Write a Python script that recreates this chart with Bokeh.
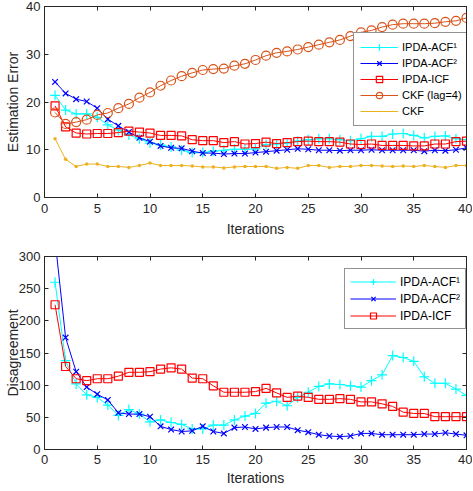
from bokeh.plotting import figure
from bokeh.layouts import column
from bokeh.models import LinearAxis, Legend, LegendItem, Range1d, FixedTicker
from bokeh.embed import file_html
from bokeh.resources import INLINE

iterations = list(range(1, 41))

# Top panel: estimation error
err_acf1 = [21.4, 18.3, 17.5, 17.5, 16.8, 15.2, 14.1, 13.1, 12.3, 11.4,
            11.0, 10.6, 9.9, 9.4, 9.4, 9.7, 9.9, 10.1, 10.1, 10.2,
            11.1, 11.2, 11.4, 11.8, 12.1, 12.3, 12.3, 12.1, 11.9, 12.3,
            12.8, 12.8, 13.3, 13.4, 13.0, 12.5, 12.8, 12.9, 12.3, 12.1]
err_acf2 = [24.2, 21.8, 20.6, 20.1, 18.7, 16.4, 15.0, 13.7, 12.5, 11.7,
            10.8, 10.4, 10.3, 9.7, 9.3, 9.3, 9.1, 9.2, 9.2, 9.4,
            9.6, 9.8, 10.0, 10.2, 10.1, 9.9, 9.9, 9.8, 9.9, 9.9,
            10.0, 9.9, 9.9, 9.9, 9.9, 9.7, 9.9, 9.8, 10.0, 10.4]
err_icf = [19.2, 14.8, 13.5, 13.3, 13.4, 13.4, 13.6, 13.9, 13.7, 13.5,
           13.0, 13.0, 12.9, 12.1, 11.9, 11.9, 11.5, 11.7, 11.2, 11.3,
           11.6, 11.3, 11.5, 11.7, 11.8, 11.7, 11.7, 11.6, 11.2, 11.1,
           11.2, 10.9, 10.9, 10.9, 10.8, 10.8, 11.2, 11.2, 11.7, 11.8]
err_ckf_lag = [17.8, 15.4, 15.8, 16.3, 17.3, 17.7, 18.7, 19.6, 20.9, 22.0,
               23.4, 24.5, 25.4, 26.1, 26.7, 26.9, 27.0, 27.6, 28.0, 28.8,
               29.7, 30.3, 30.6, 31.0, 31.5, 32.0, 32.5, 33.0, 33.8, 34.6,
               35.0, 35.7, 36.2, 36.4, 36.4, 36.4, 36.5, 36.8, 37.0, 37.6]
err_ckf = [12.3, 8.0, 6.5, 7.0, 7.0, 6.5, 6.5, 6.3, 6.7, 7.2,
           6.7, 6.7, 6.7, 6.6, 6.4, 6.4, 6.2, 6.4, 6.5, 6.5,
           6.5, 6.1, 6.3, 6.1, 6.7, 6.7, 6.3, 6.5, 6.5, 6.7,
           6.7, 6.6, 6.5, 6.6, 6.5, 6.7, 6.5, 6.3, 6.7, 6.7]

# Bottom panel: disagreement
dis_acf1 = [260, 138, 102, 85, 81, 69, 53, 62, 55, 43,
            46, 42, 39, 32, 32, 38, 38, 46, 52, 56,
            72, 75, 68, 81, 89, 98, 102, 101, 99, 97,
            107, 116, 146, 143, 137, 113, 103, 103, 94, 84]
dis_acf2 = [326, 174, 121, 97, 86, 77, 57, 55, 55, 51,
            36, 31, 28, 29, 36, 28, 25, 34, 35, 32,
            34, 35, 35, 30, 27, 23, 21, 20, 21, 25,
            25, 23, 23, 23, 23, 24, 24, 26, 24, 22]
dis_icf = [225, 129, 110, 107, 110, 110, 114, 120, 120, 121,
           125, 127, 125, 111, 110, 99, 89, 89, 89, 90,
           95, 88, 81, 83, 81, 78, 78, 79, 78, 74,
           74, 71, 67, 58, 56, 56, 51, 51, 51, 51]

x_ticks = [0, 5, 10, 15, 20, 25, 30, 35, 40]
top_y_ticks = [0, 10, 20, 30, 40]
bot_y_ticks = [0, 50, 100, 150, 200, 250, 300]

FONT = "Liberation Sans"
DARK = "#262626"

CYAN = "#00FFFF"
BLUE = "#0000FF"
RED = "#FF0000"
ORANGE = "#D95319"
YELLOW = "#EDB120"


def box_axis(ticks):
    return LinearAxis(ticker=FixedTicker(ticks=ticks), major_label_text_font_size="0px",
                      major_label_text_color=None, major_tick_in=4, major_tick_out=0,
                      minor_tick_line_color=None, axis_line_color=DARK,
                      major_tick_line_color=DARK, major_label_standoff=0,
                      axis_label_standoff=0)


def style(p, yticks, ylabel, x_std, x_lab_std, y_lab_std):
    p.xgrid.visible = False
    p.ygrid.visible = False
    p.outline_line_color = DARK
    p.background_fill_color = "white"
    p.border_fill_color = "white"
    p.xaxis.ticker = FixedTicker(ticks=x_ticks)
    p.yaxis.ticker = FixedTicker(ticks=yticks)
    p.xaxis.axis_label = "Iterations"
    p.yaxis.axis_label = ylabel
    for ax in list(p.xaxis) + list(p.yaxis):
        ax.axis_line_color = DARK
        ax.major_tick_line_color = DARK
        ax.major_tick_in = 4
        ax.major_tick_out = 0
        ax.minor_tick_line_color = None
        ax.major_label_text_font = FONT
        ax.major_label_text_font_size = "13px"
        ax.major_label_text_color = DARK
        ax.axis_label_text_font = FONT
        ax.axis_label_text_font_size = "14px"
        ax.axis_label_text_font_style = "normal"
        ax.axis_label_text_color = DARK
    for ax in p.xaxis:
        ax.major_label_standoff = x_std
        ax.axis_label_standoff = x_lab_std
    for ax in p.yaxis:
        ax.major_label_standoff = 4
        ax.axis_label_standoff = y_lab_std
    p.add_layout(box_axis(x_ticks), "above")
    p.add_layout(box_axis(yticks), "right")


def series(p, y, color, marker, size, fill=None):
    r1 = p.line(iterations, y, line_color=color, line_width=1)
    if marker == "dot":
        r2 = p.scatter(iterations, y, marker="dot", size=size, line_color=color,
                       fill_color=color, line_width=1)
    else:
        r2 = p.scatter(iterations, y, marker=marker, size=size, line_color=color,
                       fill_color=fill, line_width=1.2)
    return [r1, r2]


def make_legend(items, loc, font_size, glyph_w, row_h, spacing, padding):
    return Legend(items=items, location=loc, label_text_font=FONT,
                  label_text_font_size=font_size, label_text_color="black",
                  border_line_color=DARK, border_line_width=1,
                  background_fill_color="white", background_fill_alpha=1.0,
                  glyph_width=glyph_w, glyph_height=row_h, label_height=row_h,
                  label_standoff=4, spacing=spacing, padding=padding, margin=0)


# ---- Top figure
p1 = figure(width=472, height=241, x_range=Range1d(0, 40), y_range=Range1d(0, 40),
            output_backend="svg", toolbar_location=None,
            min_border_left=44, min_border_right=6, min_border_top=6, min_border_bottom=44)
style(p1, top_y_ticks, "Estimation Error", 6, 5, 2)

r_a1 = series(p1, err_acf1, CYAN, "cross", 10)
r_a2 = series(p1, err_acf2, BLUE, "x", 8)
r_icf = series(p1, err_icf, RED, "square", 8)
r_lag = series(p1, err_ckf_lag, ORANGE, "circle", 9)
r_ckf = series(p1, err_ckf, YELLOW, "dot", 14)

items1 = [
    LegendItem(label="IPDA-ACF\u00b9", renderers=r_a1),
    LegendItem(label="IPDA-ACF\u00b2", renderers=r_a2),
    LegendItem(label="IPDA-ICF", renderers=r_icf),
    LegendItem(label="CKF (lag=4)", renderers=r_lag),
    LegendItem(label="CKF", renderers=r_ckf),
]
p1.add_layout(make_legend(items1, (309, 71), "11px", 38, 16, 0, 6))

# ---- Bottom figure
p2 = figure(width=472, height=249, x_range=Range1d(0, 40), y_range=Range1d(0, 300),
            output_backend="svg", toolbar_location=None,
            min_border_left=44, min_border_right=6, min_border_top=15, min_border_bottom=41)
style(p2, bot_y_ticks, "Disagreement", 5, 3, -5)

s_a1 = series(p2, dis_acf1, CYAN, "cross", 10)
s_a2 = series(p2, dis_acf2, BLUE, "x", 8)
s_icf = series(p2, dis_icf, RED, "square", 8)

items2 = [
    LegendItem(label="IPDA-ACF\u00b9", renderers=s_a1),
    LegendItem(label="IPDA-ACF\u00b2", renderers=s_a2),
    LegendItem(label="IPDA-ICF", renderers=s_icf),
]
p2.add_layout(make_legend(items2, (300, 120), "12px", 46, 15, 2, 5))

layout = column(p1, p2, spacing=0)
open("out.html", "w").write(file_html(layout, INLINE))
